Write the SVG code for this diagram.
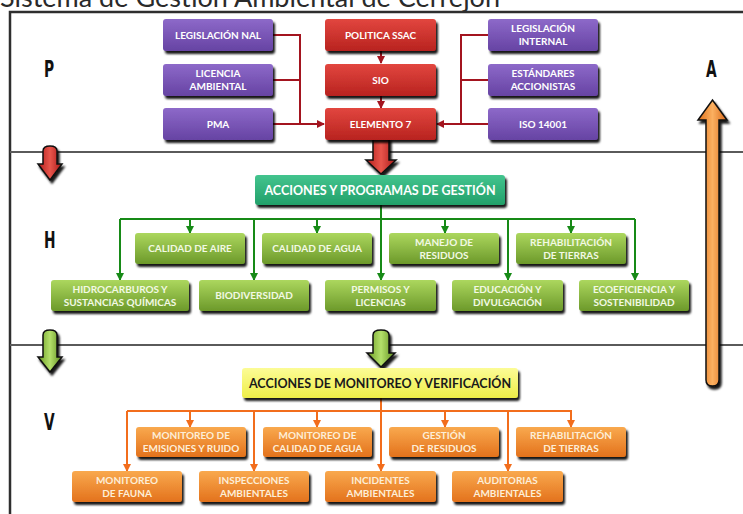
<svg xmlns="http://www.w3.org/2000/svg" width="743" height="514" viewBox="0 0 743 514">
<style>
.t{font-family:Lato,"Open Sans","Liberation Sans",sans-serif;font-weight:bold;font-size:10px;text-anchor:middle;fill:#ffffff}
.tg{fill:#f2f9e4}
.to{fill:#fdeed8}
.big{font-size:12.5px}
.dark{fill:#1a1a1a}
.lbl{font-family:"DejaVu Sans","Liberation Sans",sans-serif;font-weight:bold;font-size:23px;fill:#111}
.frame{fill:none;stroke:#2e2e2e;stroke-width:2.5}
.div{fill:none;stroke:#5a5a5a;stroke-width:2}
.cr{fill:none;stroke:#a3141f;stroke-width:2}
.cg{fill:none;stroke:#178a17;stroke-width:2}
.co{fill:none;stroke:#f26d1c;stroke-width:2}
.pu{fill:url(#gPu)}
.re{fill:url(#gRe)}
.gr{fill:url(#gGr)}
.te{fill:url(#gTe)}
.ye{fill:url(#gYe)}
.or{fill:url(#gOr)}
.box{filter:url(#sh)}
.blk{stroke:#111;stroke-width:1.5;filter:url(#sh)}
</style>
<defs>
<filter id="sh" x="-10%" y="-20%" width="130%" height="160%">
<feDropShadow dx="2" dy="3" stdDeviation="1.2" flood-color="#000" flood-opacity="0.9"/>
</filter>
<linearGradient id="gPu" x1="0" y1="0" x2="0" y2="1"><stop offset="0" stop-color="#8d69c9"/><stop offset="1" stop-color="#6643a3"/></linearGradient>
<linearGradient id="gRe" x1="0" y1="0" x2="0" y2="1"><stop offset="0" stop-color="#e2463f"/><stop offset="1" stop-color="#b8231f"/></linearGradient>
<linearGradient id="gGr" x1="0" y1="0" x2="0" y2="1"><stop offset="0" stop-color="#acd75e"/><stop offset="1" stop-color="#6c992a"/></linearGradient>
<linearGradient id="gTe" x1="0" y1="0" x2="0" y2="1"><stop offset="0" stop-color="#43c48e"/><stop offset="1" stop-color="#22a06a"/></linearGradient>
<linearGradient id="gYe" x1="0" y1="0" x2="0" y2="1"><stop offset="0" stop-color="#fcfc96"/><stop offset="1" stop-color="#eeee48"/></linearGradient>
<linearGradient id="gOr" x1="0" y1="0" x2="0" y2="1"><stop offset="0" stop-color="#f9a94e"/><stop offset="1" stop-color="#e3721c"/></linearGradient>
<linearGradient id="hRe" x1="0" y1="0" x2="1" y2="0"><stop offset="0" stop-color="#b01c1a"/><stop offset="0.5" stop-color="#e8554c"/><stop offset="1" stop-color="#a81816"/></linearGradient>
<linearGradient id="hGr" x1="0" y1="0" x2="1" y2="0"><stop offset="0" stop-color="#6a9a22"/><stop offset="0.5" stop-color="#b4e06a"/><stop offset="1" stop-color="#5e8c1c"/></linearGradient>
<linearGradient id="hOr" x1="0" y1="0" x2="1" y2="0"><stop offset="0" stop-color="#e0701a"/><stop offset="0.5" stop-color="#fbb060"/><stop offset="1" stop-color="#d8681a"/></linearGradient>
<marker id="mR" viewBox="0 0 8 8" refX="7" refY="4" markerWidth="8" markerHeight="8" markerUnits="userSpaceOnUse" orient="auto"><path d="M0,0 L8,4 L0,8 Z" fill="#a3141f"/></marker>
<marker id="mG" viewBox="0 0 8 8" refX="7" refY="4" markerWidth="8" markerHeight="8" markerUnits="userSpaceOnUse" orient="auto"><path d="M0,0 L8,4 L0,8 Z" fill="#178a17"/></marker>
<marker id="mO" viewBox="0 0 8 8" refX="7" refY="4" markerWidth="8" markerHeight="8" markerUnits="userSpaceOnUse" orient="auto"><path d="M0,0 L8,4 L0,8 Z" fill="#f26d1c"/></marker>
</defs>
<rect width="743" height="514" fill="#ffffff"/>
<text x="500" y="7" font-family="Lato,'Open Sans','Liberation Sans',sans-serif" font-size="27" fill="#2a2a2a" text-anchor="end">Sistema de Gestión Ambiental de Cerrejón</text>

<g id="frame">
<path class="frame" d="M10,514 V12 H743"/>
<path class="div" d="M10,152 H743"/>
<path class="div" d="M10,345 H743"/>
</g>

<g id="labels">
<text class="lbl" transform="translate(44,77) scale(0.6,1)">P</text>
<text class="lbl" transform="translate(44,248) scale(0.6,1)">H</text>
<text class="lbl" transform="translate(44,430) scale(0.6,1)">V</text>
<text class="lbl" transform="translate(706,77) scale(0.6,1)">A</text>
</g>

<g id="block-arrows">
<path class="blk" fill="url(#hRe)" d="M43,151 Q43,146 50,146 Q57,146 57,151 V164 H62 L50,180 L38,164 H43 Z"/>
<path class="blk" fill="url(#hGr)" d="M43,335 Q43,330 50,330 Q57,330 57,335 V357 H62 L50,372 L38,357 H43 Z"/>
<path class="blk" fill="url(#hGr)" d="M373,335 Q373,330 381,330 Q389,330 389,335 V353 H395 L381,367 L367,353 H373 Z"/>
<path class="blk" fill="url(#hRe)" d="M373,138 V160 H366 L381,174 L396,160 H389 V138 Z"/>
<path class="blk" fill="url(#hOr)" d="M706,380 Q706,386 712.5,386 Q719,386 719,380 V120 H727 L712.5,100 L698,120 H706 Z"/>
</g>

<g id="connectors">
<path class="cr" d="M273,35 H300 V124"/>
<path class="cr" d="M273,80 H300"/>
<path class="cr" d="M273,124 H324" marker-end="url(#mR)"/>
<path class="cr" d="M488,35 H461 V124"/>
<path class="cr" d="M488,80 H461"/>
<path class="cr" d="M488,124 H437" marker-end="url(#mR)"/>
<path class="cr" d="M381,51 V63" marker-end="url(#mR)"/>
<path class="cr" d="M381,96 V108" marker-end="url(#mR)"/>

<path class="cg" d="M381,205 V280" marker-end="url(#mG)"/>
<path class="cg" d="M120,219 H635"/>
<path class="cg" d="M120,219 V280" marker-end="url(#mG)"/>
<path class="cg" d="M190,219 V233" marker-end="url(#mG)"/>
<path class="cg" d="M254,219 V280" marker-end="url(#mG)"/>
<path class="cg" d="M317,219 V233" marker-end="url(#mG)"/>
<path class="cg" d="M445,219 V233" marker-end="url(#mG)"/>
<path class="cg" d="M508,219 V280" marker-end="url(#mG)"/>
<path class="cg" d="M571,219 V233" marker-end="url(#mG)"/>
<path class="cg" d="M635,219 V280" marker-end="url(#mG)"/>

<path class="co" d="M381,398 V471" marker-end="url(#mO)"/>
<path class="co" d="M127,411 H572"/>
<path class="co" d="M127,411 V471" marker-end="url(#mO)"/>
<path class="co" d="M190,411 V427" marker-end="url(#mO)"/>
<path class="co" d="M254,411 V471" marker-end="url(#mO)"/>
<path class="co" d="M317,411 V427" marker-end="url(#mO)"/>
<path class="co" d="M445,411 V427" marker-end="url(#mO)"/>
<path class="co" d="M508,411 V471" marker-end="url(#mO)"/>
<path class="co" d="M571,411 V427" marker-end="url(#mO)"/>
</g>

<g id="n-legislacion-nal"><rect class="box pu" x="163" y="19" width="110" height="32" rx="3"/><text class="t" x="218" y="39">LEGISLACIÓN NAL</text></g>
<g id="n-licencia"><rect class="box pu" x="163" y="64" width="110" height="32" rx="3"/><text class="t" x="218" y="77">LICENCIA</text><text class="t" x="218" y="90">AMBIENTAL</text></g>
<g id="n-pma"><rect class="box pu" x="163" y="108" width="110" height="32" rx="3"/><text class="t" x="218" y="128">PMA</text></g>

<g id="n-politica"><rect class="box re" x="325" y="19" width="111" height="32" rx="3"/><text class="t" x="380.5" y="39">POLITICA SSAC</text></g>
<g id="n-sio"><rect class="box re" x="325" y="64" width="111" height="32" rx="3"/><text class="t" x="380.5" y="84">SIO</text></g>
<g id="n-elemento7"><rect class="box re" x="325" y="108" width="111" height="32" rx="3"/><text class="t" x="380.5" y="128">ELEMENTO 7</text></g>

<g id="n-legislacion-internal"><rect class="box pu" x="488" y="19" width="110" height="32" rx="3"/><text class="t" x="543" y="32">LEGISLACIÓN</text><text class="t" x="543" y="45">INTERNAL</text></g>
<g id="n-estandares"><rect class="box pu" x="488" y="64" width="110" height="32" rx="3"/><text class="t" x="543" y="77">ESTÁNDARES</text><text class="t" x="543" y="90">ACCIONISTAS</text></g>
<g id="n-iso"><rect class="box pu" x="488" y="108" width="110" height="32" rx="3"/><text class="t" x="543" y="128">ISO 14001</text></g>

<g id="n-acciones-gestion"><rect class="box te" x="255" y="175" width="250" height="30" rx="3"/><text class="t big" x="380" y="194.5">ACCIONES Y PROGRAMAS DE GESTIÓN</text></g>

<g id="n-aire"><rect class="box gr" x="135" y="233" width="110" height="31" rx="3"/><text class="t tg" x="190" y="252">CALIDAD DE AIRE</text></g>
<g id="n-agua"><rect class="box gr" x="262" y="233" width="110" height="31" rx="3"/><text class="t tg" x="317" y="252">CALIDAD DE AGUA</text></g>
<g id="n-manejo"><rect class="box gr" x="389" y="233" width="110" height="31" rx="3"/><text class="t tg" x="444" y="246">MANEJO DE</text><text class="t tg" x="444" y="259">RESIDUOS</text></g>
<g id="n-rehab-g"><rect class="box gr" x="516" y="233" width="110" height="31" rx="3"/><text class="t tg" x="571" y="246">REHABILITACIÓN</text><text class="t tg" x="571" y="259">DE TIERRAS</text></g>

<g id="n-hidrocarburos"><rect class="box gr" x="51" y="280" width="138" height="31" rx="3"/><text class="t tg" x="120" y="293">HIDROCARBUROS Y</text><text class="t tg" x="120" y="306">SUSTANCIAS QUÍMICAS</text></g>
<g id="n-biodiversidad"><rect class="box gr" x="199" y="280" width="110" height="31" rx="3"/><text class="t tg" x="254" y="299">BIODIVERSIDAD</text></g>
<g id="n-permisos"><rect class="box gr" x="325" y="280" width="111" height="31" rx="3"/><text class="t tg" x="380.5" y="293">PERMISOS Y</text><text class="t tg" x="380.5" y="306">LICENCIAS</text></g>
<g id="n-educacion"><rect class="box gr" x="452" y="280" width="111" height="31" rx="3"/><text class="t tg" x="507.5" y="293">EDUCACIÓN Y</text><text class="t tg" x="507.5" y="306">DIVULGACIÓN</text></g>
<g id="n-ecoeficiencia"><rect class="box gr" x="579" y="280" width="110" height="31" rx="3"/><text class="t tg" x="634" y="293">ECOEFICIENCIA Y</text><text class="t tg" x="634" y="306">SOSTENIBILIDAD</text></g>

<g id="n-acciones-monitoreo"><rect class="box ye" x="242" y="368" width="276" height="30" rx="3"/><text class="t big dark" x="380" y="387.5">ACCIONES DE MONITOREO Y VERIFICACIÓN</text></g>

<g id="n-emisiones"><rect class="box or" x="136" y="427" width="110" height="30" rx="3"/><text class="t to" x="191" y="439">MONITOREO DE</text><text class="t to" x="191" y="452">EMISIONES Y RUIDO</text></g>
<g id="n-mon-agua"><rect class="box or" x="263" y="427" width="109" height="30" rx="3"/><text class="t to" x="317.5" y="439">MONITOREO DE</text><text class="t to" x="317.5" y="452">CALIDAD DE AGUA</text></g>
<g id="n-gestion-residuos"><rect class="box or" x="389" y="427" width="110" height="30" rx="3"/><text class="t to" x="444" y="439">GESTIÓN</text><text class="t to" x="444" y="452">DE RESIDUOS</text></g>
<g id="n-rehab-o"><rect class="box or" x="516" y="427" width="110" height="30" rx="3"/><text class="t to" x="571" y="439">REHABILITACIÓN</text><text class="t to" x="571" y="452">DE TIERRAS</text></g>

<g id="n-fauna"><rect class="box or" x="72" y="471" width="110" height="31" rx="3"/><text class="t to" x="127" y="484">MONITOREO</text><text class="t to" x="127" y="497">DE FAUNA</text></g>
<g id="n-inspecciones"><rect class="box or" x="199" y="471" width="110" height="31" rx="3"/><text class="t to" x="254" y="484">INSPECCIONES</text><text class="t to" x="254" y="497">AMBIENTALES</text></g>
<g id="n-incidentes"><rect class="box or" x="325" y="471" width="111" height="31" rx="3"/><text class="t to" x="380.5" y="484">INCIDENTES</text><text class="t to" x="380.5" y="497">AMBIENTALES</text></g>
<g id="n-auditorias"><rect class="box or" x="452" y="471" width="111" height="31" rx="3"/><text class="t to" x="507.5" y="484">AUDITORIAS</text><text class="t to" x="507.5" y="497">AMBIENTALES</text></g>
</svg>
